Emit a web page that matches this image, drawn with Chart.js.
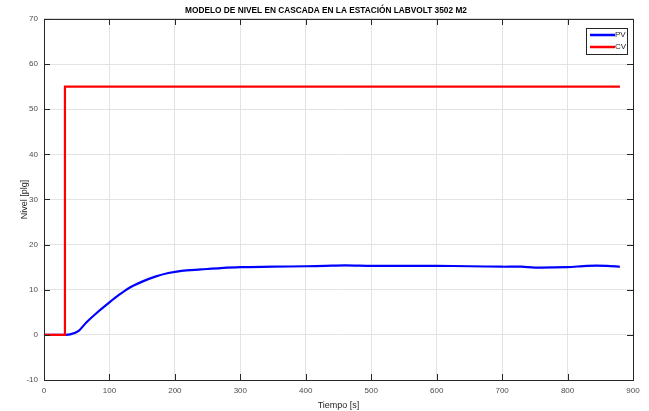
<!DOCTYPE html>
<html>
<head>
<meta charset="utf-8">
<script src="https://cdn.jsdelivr.net/npm/chart.js@4"></script>
<style>
  html, body { margin: 0; padding: 0; background: #fff; }
  #wrap { width: 649px; height: 411px; }
</style>
</head>
<body>
<div id="wrap"><canvas id="chart" width="649" height="411"></canvas></div>
<script>
// data
const pvTime = [0, 32, 40, 53, 65, 80, 100, 115, 130, 150, 170, 190, 210, 240, 270, 300, 350, 400, 430, 460, 500, 550, 600, 650, 700, 730, 750, 800, 830, 860, 880];
const pvValues = [0, 0, 0.1, 0.9, 2.8, 4.8, 7.2, 8.9, 10.4, 11.8, 12.9, 13.7, 14.2, 14.5, 14.8, 15.0, 15.1, 15.2, 15.3, 15.4, 15.3, 15.3, 15.3, 15.2, 15.1, 15.1, 14.9, 15.0, 15.3, 15.3, 15.1];
const cvTime = [0, 32, 32, 880];
const cvValues = [0, 0, 55, 55];
const xTicks = [0, 100, 200, 300, 400, 500, 600, 700, 800, 900];
const yTicks = [-10, 0, 10, 20, 30, 40, 50, 60, 70];

const toPoints = (xs, ys) => xs.map((x, i) => ({ x: x, y: ys[i] }));
const FONT = "'Liberation Sans', Arial, sans-serif";

// MATLAB style box with inward ticks + legend inside the axes
const boxPlugin = {
  id: "boxPlugin",
  afterDraw(chart) {
    const ctx = chart.ctx;
    const a = chart.chartArea;
    const xs = chart.scales.x, ys = chart.scales.y;
    ctx.save();
    ctx.strokeStyle = "#262626";
    ctx.lineWidth = 1;
    ctx.strokeRect(a.left + 0.5, a.top + 0.5, a.right - a.left, a.bottom - a.top);
    ctx.beginPath();
    xTicks.forEach(v => {
      const px = Math.round(xs.getPixelForValue(v)) + 0.5;
      ctx.moveTo(px, a.bottom); ctx.lineTo(px, a.bottom - 6);
      ctx.moveTo(px, a.top); ctx.lineTo(px, a.top + 6);
    });
    yTicks.forEach(v => {
      const py = Math.round(ys.getPixelForValue(v)) + 0.5;
      ctx.moveTo(a.left, py); ctx.lineTo(a.left + 6, py);
      ctx.moveTo(a.right, py); ctx.lineTo(a.right - 6, py);
    });
    ctx.stroke();

    // legend
    const bx = 586, by = 28, bw = 41, bh = 26;
    ctx.fillStyle = "#fff";
    ctx.fillRect(bx, by, bw, bh);
    ctx.strokeStyle = "#262626";
    ctx.strokeRect(bx + 0.5, by + 0.5, bw, bh);
    ctx.font = "8px " + FONT;
    ctx.textBaseline = "middle";
    chart.data.datasets.forEach((ds, i) => {
      const y = by + 7 + i * 12;
      ctx.strokeStyle = ds.borderColor;
      ctx.lineWidth = 2.5;
      ctx.beginPath();
      ctx.moveTo(bx + 4, y); ctx.lineTo(bx + 29, y);
      ctx.stroke();
      ctx.fillStyle = "#262626";
      ctx.fillText(ds.label, bx + 29, y);
    });
    ctx.restore();
  }
};

new Chart(document.getElementById("chart"), {
  type: "line",
  data: {
    datasets: [
      {
        label: "PV",
        data: toPoints(pvTime, pvValues),
        borderColor: "#0000ff",
        borderWidth: 2.2,
        pointRadius: 0,
        tension: 0.3,
        order: 1
      },
      {
        label: "CV",
        data: toPoints(cvTime, cvValues),
        borderColor: "#ff0000",
        borderWidth: 2.2,
        pointRadius: 0,
        tension: 0,
        order: 0
      }
    ]
  },
  options: {
    responsive: false,
    animation: false,
    layout: { padding: { left: 19, right: 16, top: 0, bottom: 0 } },
    plugins: {
      legend: { display: false },
      tooltip: { enabled: false },
      title: {
        display: true,
        text: "MODELO DE NIVEL EN CASCADA EN LA ESTACIÓN LABVOLT 3502 M2",
        color: "#000",
        font: { family: FONT, size: 8.3, weight: "bold" },
        padding: { top: 6, bottom: 3 }
      }
    },
    scales: {
      x: {
        type: "linear",
        min: 0,
        max: 900,
        afterBuildTicks: s => { s.ticks = xTicks.map(v => ({ value: v })); },
        afterFit: s => { s.height = 31; },
        grid: { color: "#e3e3e3", drawTicks: false },
        border: { display: false },
        ticks: {
          color: "#4d4d4d",
          padding: 6,
          maxRotation: 0,
          font: { family: FONT, size: 8 }
        },
        title: {
          display: true,
          text: "Tiempo [s]",
          color: "#262626",
          padding: { top: 1, bottom: 0 },
          font: { family: FONT, size: 9 }
        }
      },
      y: {
        min: -10,
        max: 70,
        afterBuildTicks: s => { s.ticks = yTicks.map(v => ({ value: v })); },
        afterFit: s => { s.width = 25; },
        grid: { color: "#e3e3e3", drawTicks: false },
        border: { display: false },
        ticks: {
          color: "#4d4d4d",
          padding: 6,
          font: { family: FONT, size: 8 }
        },
        title: {
          display: true,
          text: "Nivel [plg]",
          color: "#262626",
          padding: { top: 0, bottom: 0 },
          font: { family: FONT, size: 9 }
        }
      }
    }
  },
  plugins: [boxPlugin]
});
</script>
</body>
</html>
